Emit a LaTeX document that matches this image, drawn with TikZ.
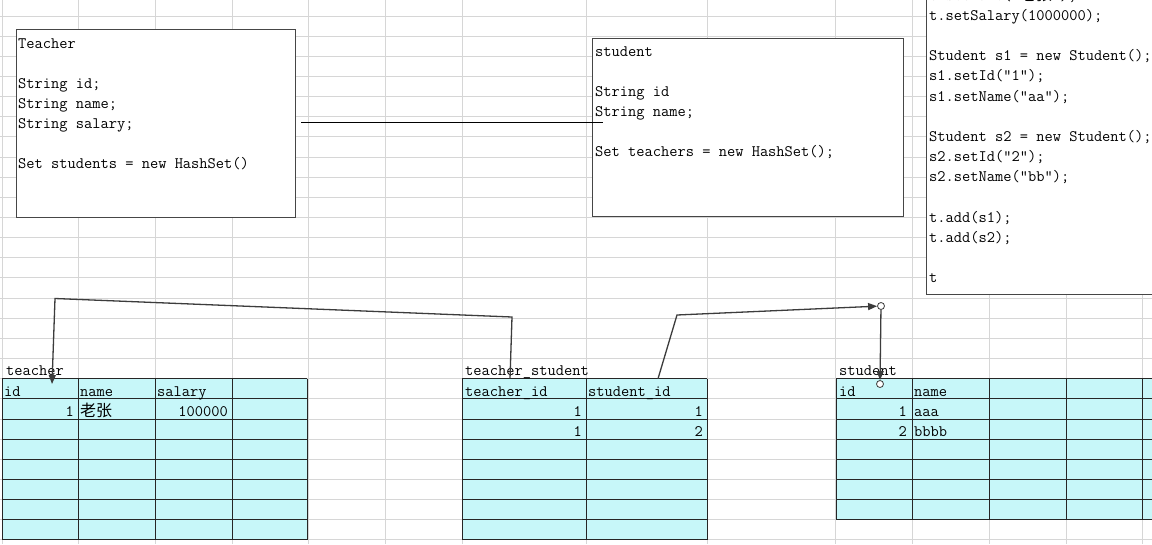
\documentclass[tikz,border=0pt]{standalone}
\usepackage{fontspec}
\newfontfamily\cjkfont{Noto Sans CJK SC}
\usetikzlibrary{arrows.meta, positioning, calc}
\definecolor{gridgray}{RGB}{214, 214, 214}
\definecolor{cellcyan}{RGB}{199, 247, 249}
\definecolor{boxgray}{RGB}{70, 70, 70}
\definecolor{wiregray}{RGB}{60, 60, 60}

\begin{document}
\begin{tikzpicture}[x=1pt, y=-1pt,
  txt/.style={anchor=base west, inner sep=0pt, font=\ttfamily\fontsize{16}{20}\selectfont},
  num/.style={txt, anchor=base east},
  classbox/.style={draw=boxgray, line width=1.3pt, fill=white, inner sep=0pt},
  tabline/.style={draw=black!85, line width=0.9pt},
  wire/.style={draw=wiregray, line width=1.3pt},
  handle/.style={circle, draw=wiregray, fill=white, line width=0.8pt, minimum size=7pt, inner sep=0pt},
  >={Triangle[length=9pt, width=7pt]},
]
\clip (0,0) rectangle (1152,544);
\fill[white] (0,0) rectangle (1152,544);

% sheet grid
\foreach \k in {-1,...,27}
  \draw[gridgray, line width=1pt] (0,{16+20.15*\k}) -- (1152,{16+20.15*\k});
\foreach \x in {2,78,155,232,308,385,462,586,707,835,912,989,1066,1142}
  \draw[gridgray, line width=1pt] (\x,0) -- (\x,544);

% teacher table
\fill[cellcyan] (2,378.7) rectangle (307,539.9);
\foreach \k in {18,...,26}
  \draw[tabline] (2,{16+20.15*\k}) -- (307,{16+20.15*\k});
\foreach \x in {2,78,155,232,307}
  \draw[tabline] (\x,378.7) -- (\x,539.9);
\node[txt] (teacher-title) at (6,375.5) {teacher};
\node[txt] (t-id) at (4,396.5) {id};
\node[txt] (t-name) at (80,396.5) {name};
\node[txt] (t-salary) at (157,396.5) {salary};
\node[num] (t-id1) at (74,416.6) {1};
\node[txt] (t-name1) at (80,416.6) {\cjkfont 老张};
\node[num] (t-salary1) at (228,416.6) {100000};

% teacher_student table
\fill[cellcyan] (462,378.7) rectangle (707,539.9);
\foreach \k in {18,...,26}
  \draw[tabline] (462,{16+20.15*\k}) -- (707,{16+20.15*\k});
\foreach \x in {462,586,707}
  \draw[tabline] (\x,378.7) -- (\x,539.9);
\node[txt] (ts-title) at (465,375.5) {teacher\_student};
\node[txt] (ts-tid) at (465,396.5) {teacher\_id};
\node[txt] (ts-sid) at (588,396.5) {student\_id};
\foreach \r/\a/\b in {1/1/1, 2/1/2} {
  \node[num] (ts-tid\r) at (582,{396.5+20.15*\r}) {\a};
  \node[num] (ts-sid\r) at (703,{396.5+20.15*\r}) {\b};
}

% student table
\fill[cellcyan] (836,378.7) rectangle (1200,519.75);
\foreach \k in {18,...,25}
  \draw[tabline] (836,{16+20.15*\k}) -- (1200,{16+20.15*\k});
\foreach \x in {836,912,989,1066,1142}
  \draw[tabline] (\x,378.7) -- (\x,519.75);
\node[txt] (s-title) at (839,375.5) {student};
\node[txt] (s-id) at (839,396.5) {id};
\node[txt] (s-name) at (914,396.5) {name};
\foreach \r/\n in {1/aaa, 2/bbbb} {
  \node[num] (s-id\r) at (907,{396.5+20.15*\r}) {\r};
  \node[txt] (s-name\r) at (914,{396.5+20.15*\r}) {\n};
}

% class boxes
\node[classbox, anchor=north west, minimum width=279pt, minimum height=188pt] (teacherclass) at (16,29) {};
\foreach \i/\t in {0/Teacher, 2/String id;, 3/String name;, 4/String salary;, 6/Set students = new HashSet()}
  \node[txt] (tc-\i) at (18,{48+20.15*\i}) {\t};

\node[classbox, anchor=north west, minimum width=311pt, minimum height=178pt] (studentclass) at (592,38) {};
\foreach \i/\t in {0/student, 2/String id, 3/String name;, 5/Set teachers = new HashSet();}
  \node[txt] (sc-\i) at (595,{56+20.15*\i}) {\t};

\node[classbox, anchor=south west, minimum width=250pt, minimum height=320pt] (testcode) at (926,295) {};
\foreach \i/\t in {0/t.setName("{\cjkfont 老张}");, 1/t.setSalary(1000000);,
    3/Student s1 = new Student();, 4/s1.setId("1");, 5/s1.setName("aa");,
    7/Student s2 = new Student();, 8/s2.setId("2");, 9/s2.setName("bb");,
    11/t.add(s1);, 12/t.add(s2);, 14/t}
  \node[txt] (code-\i) at (929,{0.35+20.15*\i}) {\t};

% links
\coordinate (tc-link) at (301,122);
\coordinate (sc-link) at (603,122);
\draw[black, line width=1pt] (tc-link) -- (sc-link);

\coordinate (ts-out) at (510,378.7);
\coordinate (ts-bend) at (512,317);
\coordinate (t-bend) at (55,298.5);
\coordinate (t-in) at (52,384);
\draw[wire, ->] (ts-out) -- (ts-bend) -- (t-bend) -- (t-in);

\coordinate (sid-out) at (658,378.7);
\coordinate (sid-bend) at (677,315);
\node[handle] (h-top) at (881,306) {};
\node[handle] (h-bot) at (880,384) {};
\draw[wire, ->] (sid-out) -- (sid-bend) -- (h-top);
\draw[wire, ->] (h-top) -- (h-bot);
\end{tikzpicture}
\end{document}
